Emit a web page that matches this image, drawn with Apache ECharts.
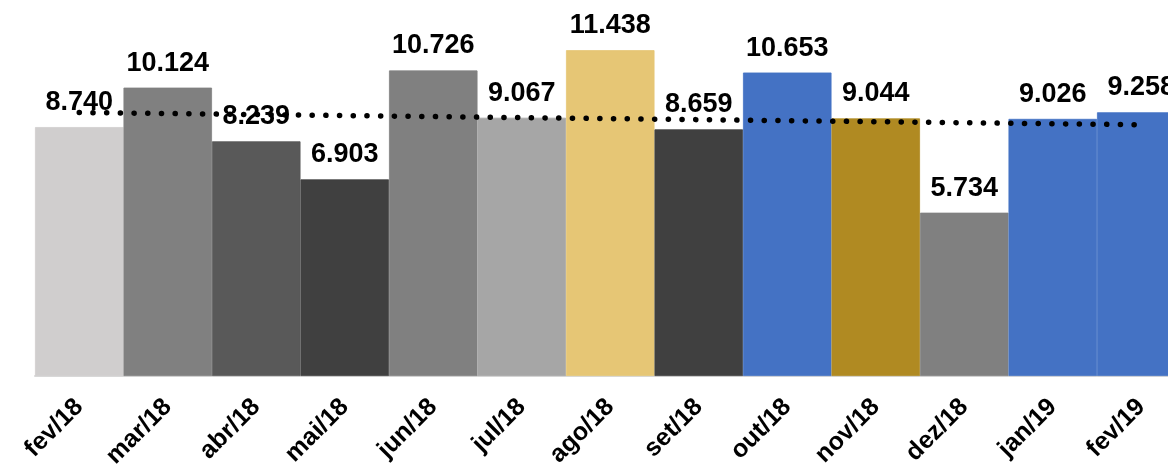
<!DOCTYPE html>
<html>
<head>
<meta charset="utf-8">
<script src="https://cdn.jsdelivr.net/npm/echarts@6/dist/echarts.min.js"></script>
<style>
html,body{margin:0;padding:0;background:#fff;}
#chart{width:1168px;height:475px;}
</style>
</head>
<body>
<div id="chart"></div>
<script>
const categories = ['fev/18','mar/18','abr/18','mai/18','jun/18','jul/18','ago/18','set/18','out/18','nov/18','dez/18','jan/19','fev/19'];
const values = [8740, 10124, 8239, 6903, 10726, 9067, 11438, 8659, 10653, 9044, 5734, 9026, 9258];
const barColors = ['#D0CECE','#808080','#595959','#404040','#808080','#A6A6A6','#E6C675','#404040','#4472C4','#B08A22','#808080','#4472C4','#4472C4'];
// trend line endpoints (first and last category)
const trendStart = 9250;
const trendEnd = 8820;

const fmt = v => {
  const s = String(Math.round(v));
  return s.replace(/\B(?=(\d{3})+(?!\d))/g, '.');
};

const trendData = categories.map((c, i) => i === 0 ? trendStart : (i === categories.length - 1 ? trendEnd : null));

const chart = echarts.init(document.getElementById('chart'), null, {renderer: 'canvas'});
chart.setOption({
  animation: false,
  backgroundColor: '#ffffff',
  grid: {left: 35, width: 1150.5, top: 0, bottom: 99, containLabel: false, outerBoundsMode: 'none'},
  xAxis: {
    type: 'category',
    data: categories,
    axisLine: {show: true, lineStyle: {color: '#D9D9D9', width: 2}},
    axisTick: {show: false},
    axisLabel: {
      rotate: 45,
      margin: 27,
      interval: 0,
      color: '#000',
      fontFamily: 'Liberation Sans, Arial, sans-serif',
      fontWeight: 'bold',
      fontSize: 25
    }
  },
  yAxis: {
    type: 'value',
    min: 0,
    max: 13200,
    show: false,
    splitLine: {show: false}
  },
  series: [
    {
      type: 'bar',
      data: values.map((v, i) => ({value: v, itemStyle: {color: barColors[i], borderColor: barColors[i], borderWidth: 0.8}})),
      barCategoryGap: '0%',
      z: 2,
      label: {
        show: true,
        position: 'top',
        distance: 11,
        color: '#000',
        fontFamily: 'Liberation Sans, Arial, sans-serif',
        fontWeight: 'bold',
        fontSize: 27,
        formatter: p => fmt(p.value)
      }
    },
    {
      type: 'line',
      data: trendData,
      connectNulls: true,
      symbol: 'none',
      z: 5,
      zlevel: 1,
      lineStyle: {color: '#000', width: 5.5, type: [0.1, 13.6], cap: 'round'}
    }
  ]
});
</script>
</body>
</html>
